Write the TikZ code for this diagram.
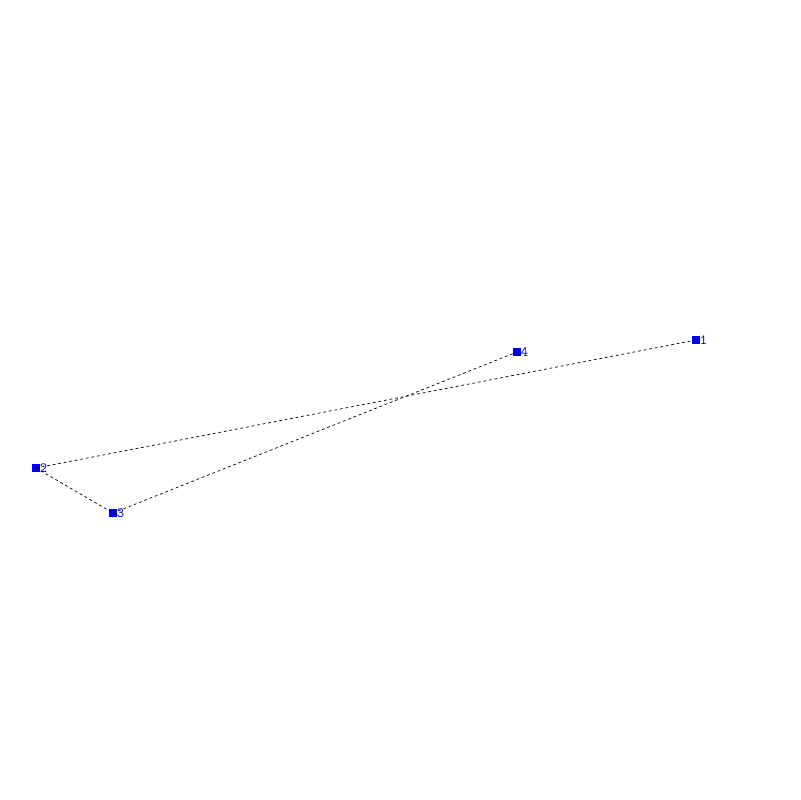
\documentclass[tikz,border=0pt]{standalone}
\usepackage{tikz}
\usetikzlibrary{positioning}
\tikzstyle{pt} = [rectangle, fill=blue, draw=none, inner sep=0, minimum size=0.18cm]
\tikzstyle{lbl} = [draw=none, inner sep=0, text=blue, font=\fontsize{10}{11}\selectfont\ttfamily, anchor=west]
\tikzstyle{link} = [-, dash pattern=on 2pt off 2pt, line width=0.5pt]

\begin{document}
\begin{tikzpicture}[x=0.025cm, y=-0.025cm]
\useasboundingbox (0,0) rectangle (800,800);
\node [pt] (P1) at (696, 340) {};
\node [pt] (P2) at (36, 468) {};
\node [pt] (P3) at (113, 513) {};
\node [pt] (P4) at (517, 352) {};
\node [lbl] (L1) at (699.5, 340) {1};
\node [lbl] (L2) at (39.5, 468) {2};
\node [lbl] (L3) at (116.5, 513) {3};
\node [lbl] (L4) at (520.5, 352) {4};
\draw [link] (P1.center) to (P2.center);
\draw [link] (P2.center) to (P3.center);
\draw [link] (P3.center) to (P4.center);
\end{tikzpicture}
\end{document}
